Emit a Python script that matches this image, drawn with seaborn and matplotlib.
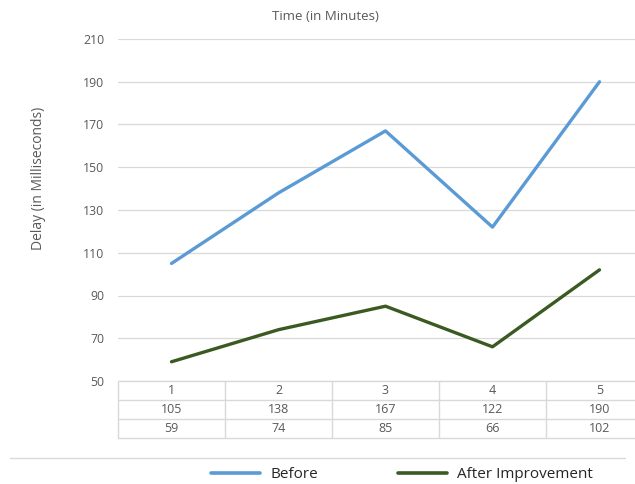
import matplotlib
matplotlib.use("Agg")
import matplotlib.pyplot as plt
import pandas as pd
import seaborn as sns
from matplotlib.lines import Line2D

# ── Data ────────────────────────────────────────────────────────────────────
minutes = ["1", "2", "3", "4", "5"]
before = [105, 138, 167, 122, 190]
after = [59, 74, 85, 66, 102]
y_ticks = [50, 70, 90, 110, 130, 150, 170, 190, 210]

BLUE = "#5B9BD5"
GREEN = "#3B5A22"
GRID = "#D9D9D9"
TEXT = "#595959"

sns.set_theme(style="white")
plt.rcParams["font.family"] = ["Open Sans", "DejaVu Sans"]

df = pd.DataFrame({
    "pos": list(range(len(minutes))) * 2,
    "delay": before + after,
    "series": ["Before"] * len(before) + ["After Improvement"] * len(after),
})

W, H = 635, 484
fig = plt.figure(figsize=(W / 100, H / 100), dpi=100)

# main plot area (extends past the right edge like the source crop)
left, right_px = 118, 653
top, bottom = 39, 381
ax = fig.add_axes([left / W, 1 - bottom / H, (right_px - left) / W, (bottom - top) / H])
sns.lineplot(data=df, x="pos", y="delay", hue="series",
             palette={"Before": BLUE, "After Improvement": GREEN},
             linewidth=2.4, ax=ax, legend=False)
ax.set_xlim(-0.5, len(minutes) - 0.5)
ax.set_ylim(y_ticks[0], y_ticks[-1])
ax.set_yticks(y_ticks)
ax.set_yticklabels([str(t) for t in y_ticks], color=TEXT, fontsize=8.8)
ax.set_xticks([])
ax.tick_params(axis="y", length=0, pad=10)
ax.yaxis.grid(True, color=GRID, linewidth=0.9)
ax.set_axisbelow(True)
for s in ax.spines.values():
    s.set_visible(False)
ax.set_xlabel("")
ax.set_ylabel("Delay (in Milliseconds)", color=TEXT, fontsize=10)
ax.yaxis.set_label_coords((46 - left) / (right_px - left), (bottom - 178) / (bottom - top))
ax.set_title("Time (in Minutes)", color=TEXT, fontsize=9.5, pad=14, x=(325 - left) / (right_px - left))

# data table below the axis
t_top, t_bot = 381, 438
tab = fig.add_axes([left / W, 1 - t_bot / H, (right_px - left) / W, (t_bot - t_top) / H])
tab.set_xlim(0, len(minutes))
tab.set_ylim(3, 0)
tab.axis("off")
rows = [minutes, [str(v) for v in before], [str(v) for v in after]]
for r, row in enumerate(rows):
    for c, val in enumerate(row):
        tab.text(c + 0.5, r + 0.52, val, ha="center", va="center", fontsize=9, color=TEXT)
for r in range(4):
    tab.axhline(r, color=GRID, linewidth=1, clip_on=False)
for c in range(len(minutes) + 1):
    tab.axvline(c, color=GRID, linewidth=1, clip_on=False)

# separator line above legend
fig.add_artist(Line2D([10 / W, 625 / W], [1 - 458 / H, 1 - 458 / H],
                      color=GRID, linewidth=1))

handles = [Line2D([], [], color=BLUE, linewidth=2.6),
           Line2D([], [], color=GREEN, linewidth=2.6)]
fig.legend(handles, ["Before", "After Improvement"], loc="center",
           bbox_to_anchor=(402 / W, 1 - 475 / H), ncol=2, frameon=False,
           fontsize=11, handlelength=3.2, handletextpad=0.7, columnspacing=5.2,
           labelcolor="#262626")

fig.savefig("out.png", dpi=100)
